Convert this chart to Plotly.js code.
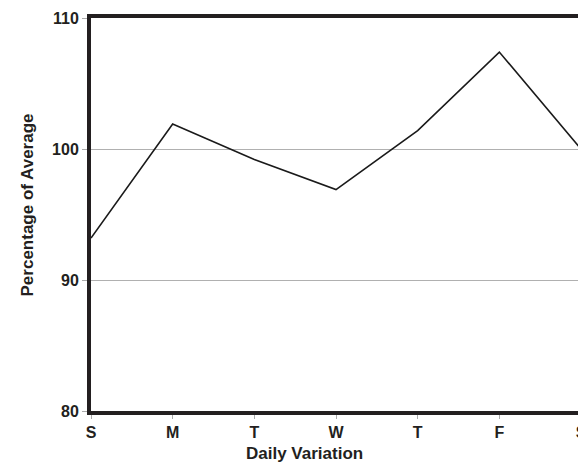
<!DOCTYPE html>
<html>
<head>
<meta charset="utf-8">
<script src="https://cdn.plot.ly/plotly-3.0.1.min.js"></script>
<style>
html,body{margin:0;padding:0;overflow:hidden;background:#fff;}
#chart{width:620px;height:468px;}
</style>
</head>
<body>
<div id="chart"></div>
<script>
var dayLabels = ['S','M','T','W','T','F','S'];
var dayIndex = [0,1,2,3,4,5,6];
var percentOfAverage = [93.2, 101.9, 99.2, 96.9, 101.4, 107.4, 100.0];
var yTicks = [80, 90, 100, 110];
var xTitle = 'Daily Variation';
var yTitle = 'Percentage of Average';

var fontFam = 'Arial, "Liberation Sans", Helvetica, sans-serif';
var ink = '#231f20';

var trace = {
  x: dayIndex,
  y: percentOfAverage,
  type: 'scatter',
  mode: 'lines',
  line: {color: '#1a1a1a', width: 1.6},
  hoverinfo: 'none'
};

var layout = {
  width: 620,
  height: 468,
  margin: {l: 91, r: 39, t: 18, b: 57},
  paper_bgcolor: '#fff',
  plot_bgcolor: '#fff',
  showlegend: false,
  font: {family: fontFam, color: ink},
  xaxis: {
    range: [0, 6],
    tickvals: dayIndex,
    ticktext: dayLabels,
    showgrid: false,
    zeroline: false,
    showline: true,
    linewidth: 4,
    linecolor: ink,
    mirror: true,
    ticks: 'outside',
    ticklen: 4,
    tickwidth: 1,
    tickcolor: '#aaaaaa',
    tickfont: {family: fontFam, size: 16, color: ink, weight: 'bold'}
  },
  yaxis: {
    range: [80, 110],
    tickvals: yTicks,
    ticktext: yTicks.map(String),
    showgrid: true,
    gridcolor: '#b0b0b0',
    gridwidth: 1,
    zeroline: false,
    showline: true,
    linewidth: 4,
    linecolor: ink,
    mirror: true,
    ticks: 'outside',
    ticklen: 5,
    tickwidth: 1,
    tickcolor: '#aaaaaa',
    tickfont: {family: fontFam, size: 16, color: ink, weight: 'bold'}
  },
  annotations: [
    {
      text: xTitle, xref: 'paper', yref: 'paper', x: 0.4347, y: -0.1069,
      xanchor: 'center', yanchor: 'middle', showarrow: false,
      font: {family: fontFam, size: 17, color: ink, weight: 'bold'}
    },
    {
      text: yTitle, xref: 'paper', yref: 'paper', x: -0.1276, y: 0.5242,
      xanchor: 'center', yanchor: 'middle', showarrow: false, textangle: -90,
      font: {family: fontFam, size: 17, color: ink, weight: 'bold'}
    }
  ]
};

Plotly.newPlot('chart', [trace], layout, {displayModeBar: false, staticPlot: true});
</script>
</body>
</html>
